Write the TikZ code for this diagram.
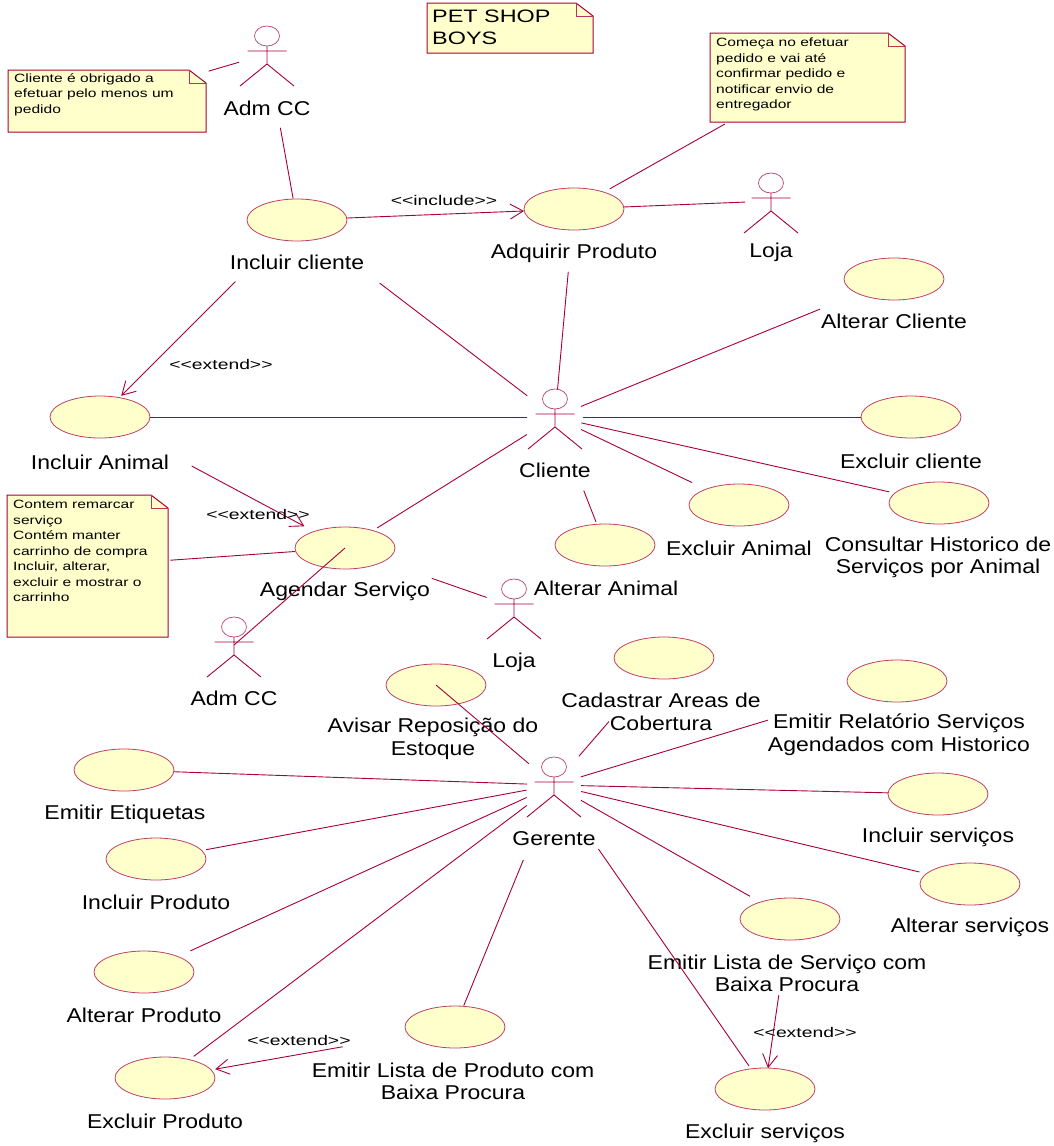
\documentclass[tikz,border=0pt]{standalone}
\usepackage{fontspec}
\usetikzlibrary{shapes.geometric,arrows.meta}
\setmainfont{Liberation Sans}
\newfontfamily\lblfam[FakeStretch=1.15]{Liberation Sans}
\newfontfamily\smallfam[FakeStretch=1.3]{Liberation Sans}
\newfontfamily\stereofam[FakeStretch=1.38]{Liberation Sans}
\definecolor{umlline}{HTML}{A80036}
\definecolor{umlfill}{HTML}{FFFFCC}
\tikzset{
  x=1pt,y=-1pt,
  ucshape/.style={shape=ellipse,draw=umlline!75!white,fill=umlfill,line width=0.8pt,minimum width=100pt,minimum height=42pt,inner sep=0pt,outer sep=0pt},
  lbl/.style={font=\lblfam\fontsize{20}{22.5}\selectfont,align=center,text=black,inner sep=0pt},
  stereo/.style={font=\stereofam\fontsize{14}{16}\selectfont,text=black,inner sep=0pt},
  notetext/.style={font=\smallfam\fontsize{12}{15.5}\selectfont,align=left,text=black,inner sep=0pt,anchor=north west},
  notebox/.style={draw=umlline,fill=umlfill,line width=1pt,line join=miter},
  notefold/.style={draw=umlline!80!white,line width=0.8pt},
  anchorbox/.style={shape=rectangle,inner sep=0pt,outer sep=0pt},
  figline/.style={draw=umlline,line width=0.9pt},
  assocline/.style={draw=umlline,line width=0.9pt},
  dep/.style={draw=umlline,line width=0.9pt,-{Straight Barb[length=13pt,width=15pt,line width=0.9pt]}},
}
\newcommand{\uact}[5]{% name, head x, head y, label, label y
  \node[anchorbox,minimum width=54pt,minimum height=60pt] (#1) at (#2,#3+18) {};
  \begin{scope}[shift={(#2,#3)}]
    \draw[figline,draw=umlline!75!white,fill=white,line width=0.7pt] (0,0) ellipse [x radius=12.5pt,y radius=10pt];
    \draw[figline] (0,10) -- (0,28) (-19.5,15) -- (19.5,15) (-27,50) -- (0,28) -- (27,50);
  \end{scope}
  \node[lbl] (#1-l) at (#2,#5) {#4};
}
\newcommand{\ucase}[6]{% name, x, y, label, label x, label y
  \node[ucshape] (#1) at (#2,#3) {};
  \node[lbl] (#1-l) at (#5,#6) {#4};
}
\newcommand{\unote}[7]{% name, x1,y1,x2,y2, text style opts, text
  \path[notebox] (#2,#3) -- (#4-17,#3) -- (#4,#3+13) -- (#4,#5) -- (#2,#5) -- cycle;
  \path[notefold] (#4-17,#3) -- (#4-17,#3+13) -- (#4,#3+13);
  \node[anchorbox,minimum width=#4-#2,minimum height=#5-#3] (#1) at ({(#2+#4)/2},{(#3+#5)/2}) {};
  \node[#6] (#1-t) {#7};
}
\newcommand{\assoc}[4]{\draw[assocline,shorten <=#3pt,shorten >=#4pt] (#1.center) -- (#2.center);}
\newcommand{\depend}[4]{\draw[dep,shorten <=#3pt,shorten >=#4pt] (#1.center) -- (#2.center);}
\begin{document}
\begin{tikzpicture}
\useasboundingbox (0,0) rectangle (1054,1146);
% notes
\unote{petnote}{427}{3}{593}{53}{notetext,font=\smallfam\fontsize{18}{22}\selectfont,at={(432,10)}}{PET SHOP\\BOYS}
\unote{noteA}{8}{70}{206}{132}{notetext,at={(14,73)}}{Cliente é obrigado a\\efetuar pelo menos um\\pedido}
\unote{noteB}{710}{33}{905}{122}{notetext,at={(716,38)}}{Começa no efetuar\\pedido e vai até\\confirmar pedido e\\notificar envio de\\entregador}
\unote{noteC}{7}{495}{168}{637}{notetext,at={(13,500)}}{Contem remarcar\\serviço\\Contém manter\\carrinho de compra\\Incluir, alterar,\\excluir e mostrar o\\carrinho}
% actors
\uact{admA}{267}{36}{Adm CC}{108}
\uact{lojaA}{771}{183}{Loja}{252}
\uact{cliente}{555}{399}{Cliente}{470}
\uact{lojaB}{514}{589}{Loja}{662}
\uact{admB}{234}{627}{Adm CC}{698}
\uact{gerente}{554}{767}{Gerente}{839}
% use cases
\ucase{inclCli}{297}{220}{Incluir cliente}{297}{262}
\ucase{adq}{574}{209}{Adquirir Produto}{574}{253}
\ucase{altCli}{894}{279}{Alterar Cliente}{894}{321}
\ucase{excCli}{911}{417}{Excluir cliente}{911}{461}
\ucase{inclAni}{100}{417}{Incluir Animal}{100}{462}
\ucase{consHist}{939}{503}{Consultar Historico de\\Serviços por Animal}{938}{557.5}
\ucase{excAni}{739}{505}{Excluir Animal}{739}{548}
\ucase{altAni}{605}{545}{Alterar Animal}{606}{588}
\ucase{agendar}{345}{548}{Agendar Serviço}{345}{591}
\ucase{avisar}{436}{685}{Avisar Reposição do\\Estoque}{433}{739}
\ucase{cadastrar}{664}{658}{Cadastrar Areas de\\Cobertura}{661}{712}
\ucase{relat}{897}{681}{Emitir Relatório Serviços\\Agendados com Historico}{899}{734.5}
\ucase{etiq}{124}{770}{Emitir Etiquetas}{125}{814}
\ucase{inclServ}{938}{794}{Incluir serviços}{938}{837}
\ucase{inclProd}{156}{859}{Incluir Produto}{156}{902}
\ucase{altServ}{970}{884}{Alterar serviços}{970}{927}
\ucase{listaServ}{790}{919}{Emitir Lista de Serviço com\\Baixa Procura}{787}{973.5}
\ucase{altProd}{144}{972}{Alterar Produto}{144}{1015}
\ucase{listaProd}{455}{1027}{Emitir Lista de Produto com\\Baixa Procura}{453}{1081.5}
\ucase{excProd}{165}{1078}{Excluir Produto}{165}{1121}
\ucase{excServ}{765}{1089}{Excluir serviços}{765}{1133}
% connectors
\assoc{noteA}{admA}{106}{29}
\assoc{admA}{inclCli}{75}{22}
\depend{inclCli}{adq}{50}{50}
\assoc{adq}{noteB}{41}{95}
\assoc{adq}{lojaA}{50}{26}
\assoc{adq}{cliente}{63}{28}
\assoc{inclCli}{cliente}{104}{35}
\depend{inclCli}{inclAni}{87}{30}
\assoc{inclAni}{cliente}{50}{28}
\assoc{altCli}{cliente}{80}{28}
\assoc{excCli}{cliente}{50}{28}
\assoc{consHist}{cliente}{51}{27}
\assoc{excAni}{cliente}{52}{29}
\assoc{altAni}{cliente}{25}{79}
\assoc{agendar}{cliente}{38}{33}
\depend{inclAni}{agendar}{104}{46}
\assoc{noteC}{agendar}{83}{50}
\assoc{agendar}{lojaB}{92}{29}
\assoc{agendar}{admB}{0}{0}
\assoc{avisar}{gerente}{0}{33}
\assoc{cadastrar}{gerente}{84}{38}
\assoc{relat}{gerente}{135}{28}
\assoc{etiq}{gerente}{50}{27}
\assoc{inclServ}{gerente}{50}{27}
\assoc{inclProd}{gerente}{51}{28}
\assoc{altServ}{gerente}{52}{28}
\assoc{listaServ}{gerente}{46}{31}
\assoc{altProd}{gerente}{51}{30}
\assoc{listaProd}{gerente}{23}{81}
\assoc{excProd}{gerente}{36}{34}
\assoc{excServ}{gerente}{28}{78}
\depend{listaServ}{excServ}{77}{21}
\depend{listaProd}{excProd}{114}{51}
% stereotypes
\node[stereo] (st1) at (444,200) {<{}<include>{}>};
\node[stereo] (st2) at (221,364) {<{}<extend>{}>};
\node[stereo] (st3) at (258,514) {<{}<extend>{}>};
\node[stereo] (st4) at (805,1032) {<{}<extend>{}>};
\node[stereo] (st5) at (299,1040) {<{}<extend>{}>};
\end{tikzpicture}
\end{document}
